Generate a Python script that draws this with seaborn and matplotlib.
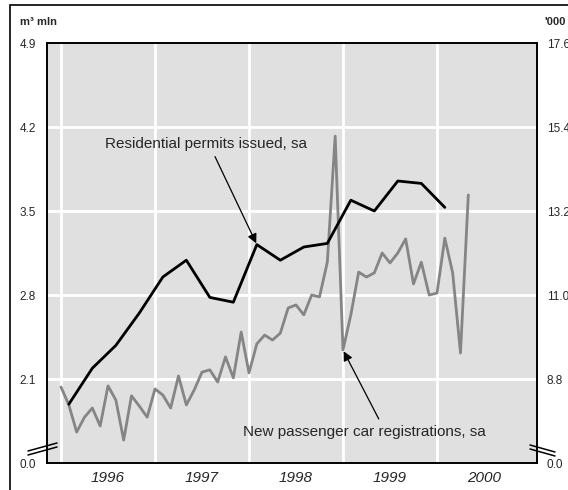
import numpy as np
import pandas as pd
import seaborn as sns
import matplotlib.pyplot as plt
from matplotlib.lines import Line2D
from matplotlib.patches import Rectangle

# residential permits, quarterly (m3 mln), Q1 1996 - Q1 2000
permits = [1.89, 2.19, 2.38, 2.65, 2.95, 3.09, 2.78, 2.74, 3.22,
           3.09, 3.20, 3.23, 3.59, 3.50, 3.75, 3.73, 3.53]
# new passenger car registrations, monthly ('000), Jan 1996 - May 2000
cars = [8.59, 8.12, 7.41, 7.80, 8.04, 7.57, 8.62, 8.25, 7.20, 8.36, 8.09, 7.80,
        8.54, 8.38, 8.04, 8.88, 8.12, 8.51, 8.98, 9.04, 8.72, 9.38, 8.83, 10.03,
        8.96, 9.72, 9.95, 9.82, 10.00, 10.66, 10.74, 10.48, 11.00, 10.95, 11.86, 15.16,
        9.56, 10.48, 11.60, 11.47, 11.58, 12.10, 11.84, 12.10, 12.47, 11.29, 11.86, 11.00,
        11.05, 12.49, 11.58, 9.48, 13.62]
years = [1996, 1997, 1998, 1999, 2000]
left_ticks = [1.4, 2.1, 2.8, 3.5, 4.2, 4.9]
left_labels = ["0.0", "2.1", "2.8", "3.5", "4.2", "4.9"]
right_ticks = [6.6, 8.8, 11.0, 13.2, 15.4, 17.6]
right_labels = ["0.0", "8.8", "11.0", "13.2", "15.4", "17.6"]

# x positions as fractional years
q_x = [1996 + (1 + 3 * i) / 12 for i in range(len(permits))]
m_x = [1996 + i / 12 for i in range(len(cars))]
dfq = pd.DataFrame({"t": q_x, "v": permits})
dfm = pd.DataFrame({"t": m_x, "v": cars})

sns.set_style("white")
plt.rcParams["font.family"] = ["Liberation Sans", "DejaVu Sans"]

fig = plt.figure(figsize=(5.68, 4.9), dpi=100)
ax2 = fig.add_axes([47 / 568, 27 / 490, 490 / 568, 420 / 490])
ax = ax2.twinx()
ax.set_zorder(ax2.get_zorder() + 1)
ax.patch.set_visible(False)
ax2.set_facecolor("#e0e0e0")

# outer frame
fig.add_artist(Rectangle((10 / 568, -0.1), 1.2, 1.1 - 5 / 490, transform=fig.transFigure,
                         fill=False, edgecolor="black", linewidth=1.2))

sns.lineplot(data=dfm, x="t", y="v", ax=ax2, color="#858585", linewidth=2)
sns.lineplot(data=dfq, x="t", y="v", ax=ax, color="black", linewidth=2)

ax2.set_xlim(1995.851, 2001.064)
ax2.set_ylim(6.6, 17.6)
ax.set_ylim(1.4, 4.9)

# grid on the lower axes
for y in right_ticks[1:-1]:
    ax2.axhline(y, color="white", linewidth=2, zorder=0.5)
for yr in years:
    ax2.axvline(yr, color="white", linewidth=2, zorder=0.5)

ax2.yaxis.tick_right()
ax2.set_yticks(right_ticks)
ax2.set_yticklabels(right_labels, fontsize=8.5)
ax2.tick_params(axis="y", length=0, pad=7)
ax2.set_xticks([y + 0.5 for y in years])
ax2.set_xticklabels([str(y) for y in years], fontsize=11, style="italic")
ax2.tick_params(axis="x", length=0, pad=6)
ax2.set_xlabel("")
ax2.set_ylabel("")

ax.yaxis.tick_left()
ax.set_yticks(left_ticks)
ax.set_yticklabels(left_labels, fontsize=8.5)
ax.tick_params(axis="y", length=0, pad=8)
ax.set_ylabel("")
ax.set_xlabel("")

for a in (ax, ax2):
    for s in a.spines.values():
        s.set_color("black")
        s.set_linewidth(1.2)

fig.text(20 / 568, 1 - 22 / 490, "m³ mln", fontsize=8, fontweight="bold", va="center")
fig.text(544 / 568, 1 - 22 / 490, "'000", fontsize=8, fontweight="bold", va="center")

# annotations
ax.annotate("Residential permits issued, sa", xy=(q_x[8], permits[8]),
            xytext=(1996.47, 4.06), fontsize=11, ha="left", va="center",
            arrowprops=dict(arrowstyle="-|>", color="black", lw=0.9,
                            mutation_scale=14, shrinkA=2, shrinkB=1,
                            relpos=(0.53, 0.0)), zorder=5)
ax2.annotate("New passenger car registrations, sa", xy=(m_x[36], cars[36]),
             xytext=(1997.94, 7.42), fontsize=11, ha="left", va="center",
             arrowprops=dict(arrowstyle="-|>", color="black", lw=0.9,
                             mutation_scale=14, shrinkA=2, shrinkB=1,
                             relpos=(0.57, 1.0)), zorder=5)

# axis break marks (two parallel strokes each side)
for dy in (0, 4):
    fig.add_artist(Line2D([28 / 568, 57 / 568],
                          [1 - (455 - dy) / 490, 1 - (447 - dy) / 490],
                          color="black", lw=1.1, transform=fig.transFigure))
    fig.add_artist(Line2D([530 / 568, 555 / 568],
                          [1 - (445 + dy) / 490, 1 - (452 + dy) / 490],
                          color="black", lw=1.1, transform=fig.transFigure))

fig.savefig("out.png", dpi=100)
